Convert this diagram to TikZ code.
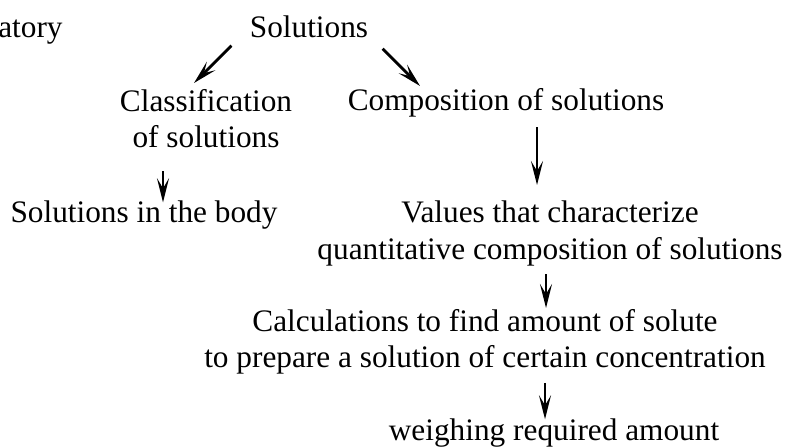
\documentclass[tikz,border=0pt]{standalone}
\usepackage{fontspec}
\setmainfont{Liberation Serif}
\usetikzlibrary{arrows.meta}

\begin{document}
\begin{tikzpicture}[x=0.5pt,y=-0.5pt,
	txt/.style={inner sep=0pt,align=center,font=\fontsize{15.65pt}{18.25pt}\selectfont},
	arr/.style={line width=1.4pt,-{Stealth[length=12pt,width=6pt,inset=5pt]}}]
	\useasboundingbox (0,0) rectangle (790,447);
	% top row
	\node[txt,anchor=base east] (lab) at (63,37) {atory};
	\node[txt,anchor=base] (sol) at (309,37) {Solutions};
	% second row
	\node[txt,anchor=north] (cls) at (206,88.6) {Classification\\of solutions};
	\node[txt,anchor=base] (comp) at (506,110) {Composition of solutions};
	% third row
	\node[txt,anchor=base] (body) at (144,222) {Solutions in the body};
	\node[txt,anchor=north] (val) at (550,200.6) {Values that characterize\\quantitative composition of solutions};
	% lower part
	\node[txt,anchor=north] (calc) at (485,308.6) {Calculations to find amount of solute\\to prepare a solution of certain concentration};
	\node[txt,anchor=base] (weigh) at (554,440) {weighing required amount};
	% arrows
	\draw[arr] ([shift={(-18,8)}]sol.south west) -- ([shift={(-12,-5.6)}]cls.north);
	\draw[arr] ([shift={(14,11)}]sol.south east) -- ([shift={(-86,-1.6)}]comp.north);
	\draw[arr] ([shift={(-43,23)}]cls.south) -- ([shift={(19,2.4)}]body.north);
	\draw[arr] ([shift={(31,10.2)}]comp.south) -- ([shift={(-13,-15.6)}]val.north);
	\draw[arr] ([shift={(-4,8.2)}]val.south) -- ([shift={(61,-0.6)}]calc.north);
	\draw[arr] ([shift={(60,8.2)}]calc.south) -- ([shift={(-9,1.4)}]weigh.north);
\end{tikzpicture}
\end{document}
